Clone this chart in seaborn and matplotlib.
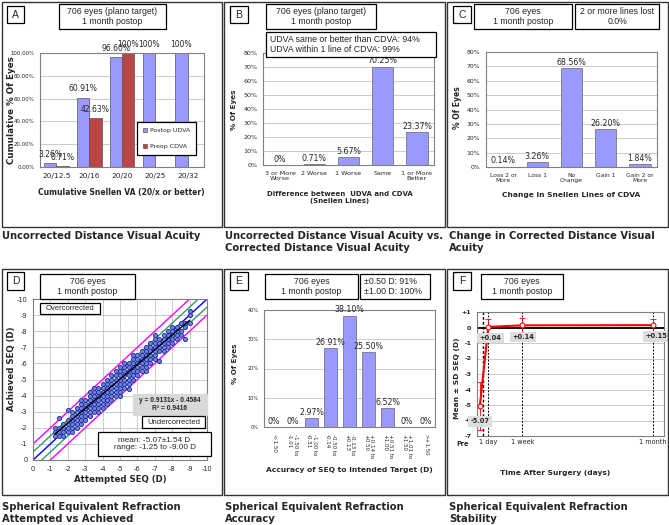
import seaborn as sns
import matplotlib.pyplot as plt
import pandas as pd
from matplotlib.patches import Rectangle
from matplotlib.ticker import FuncFormatter

# --- A: cumulative Snellen VA
snellen_cats = ["20/12.5", "20/16", "20/20", "20/25", "20/32"]
postop_udva = [3.26, 60.91, 96.60, 100, 100]
preop_cdva = [0.71, 42.63, 100, None, None]

# --- B: UDVA vs CDVA difference
diff_cats = ["3 or More\nWorse", "2 Worse", "1 Worse", "Same", "1 or More\nBetter"]
diff_vals = [0, 0.71, 5.67, 70.25, 23.37]

# --- C: change in CDVA
change_cats = ["Loss 2 or\nMore", "Loss 1", "No\nChange", "Gain 1", "Gain 2 or\nMore"]
change_vals = [0.14, 3.26, 68.56, 26.20, 1.84]

# --- D: attempted vs achieved SEQ (attempted, achieved values)
scatter_rows = [
    (-1.25, [-1.50, -1.75, -2.00]),
    (-1.50, [-1.50, -1.75, -2.00, -2.63]),
    (-1.75, [-1.50, -1.75, -2.00, -2.25]),
    (-2.00, [-1.75, -2.00, -2.25, -2.50, -3.13]),
    (-2.25, [-1.75, -2.00, -2.25, -2.50, -2.75, -3.00]),
    (-2.50, [-2.00, -2.25, -2.50, -2.75, -3.00, -3.25]),
    (-2.75, [-2.25, -2.50, -2.75, -3.00, -3.25, -3.50, -3.75]),
    (-3.00, [-2.50, -2.75, -3.00, -3.25, -3.50, -3.75]),
    (-3.25, [-2.75, -3.00, -3.25, -3.50, -3.75, -4.00, -4.25]),
    (-3.50, [-3.00, -3.25, -3.50, -3.75, -4.00, -4.25, -4.50]),
    (-3.75, [-3.00, -3.25, -3.50, -3.75, -4.00, -4.25, -4.50]),
    (-4.00, [-3.25, -3.50, -3.75, -4.00, -4.25, -4.50, -4.75]),
    (-4.25, [-3.50, -3.75, -4.00, -4.25, -4.50, -4.75, -5.00]),
    (-4.50, [-3.75, -4.00, -4.25, -4.50, -4.75, -5.00, -5.25]),
    (-4.75, [-4.00, -4.25, -4.50, -4.75, -5.00, -5.25, -5.50]),
    (-5.00, [-4.00, -4.25, -4.50, -4.75, -5.00, -5.25, -5.50, -5.75]),
    (-5.25, [-4.50, -4.75, -5.00, -5.25, -5.50, -5.75, -6.00]),
    (-5.50, [-4.38, -4.75, -5.00, -5.25, -5.50, -5.75, -6.00]),
    (-5.75, [-5.00, -5.25, -5.50, -5.75, -6.00, -6.25, -6.50]),
    (-6.00, [-5.25, -5.50, -5.75, -6.00, -6.25, -6.50]),
    (-6.25, [-5.50, -5.75, -6.00, -6.25, -6.50, -6.75]),
    (-6.50, [-5.50, -5.75, -6.00, -6.25, -6.50, -6.75, -7.00]),
    (-6.75, [-6.00, -6.25, -6.50, -6.75, -7.00, -7.25]),
    (-7.00, [-6.25, -6.50, -6.75, -7.00, -7.25, -7.50, -7.75]),
    (-7.25, [-6.13, -6.75, -7.00, -7.25, -7.50]),
    (-7.50, [-6.75, -7.00, -7.25, -7.50, -7.75]),
    (-7.75, [-7.00, -7.25, -7.50, -7.75, -8.00]),
    (-8.00, [-7.25, -7.50, -7.75, -8.00, -8.25]),
    (-8.25, [-7.50, -7.75, -8.00, -8.25]),
    (-8.50, [-7.75, -8.00, -8.50]),
    (-8.75, [-7.50, -8.25, -8.50]),
    (-9.00, [-8.50, -9.00, -9.25]),
]
fit_slope, fit_intercept = 0.9131, -0.4584
fit_range = [-1.25, -9.00]
ref_offsets = [(-1.0, "#FF00FF"), (1.0, "#FF00FF"), (-0.5, "#339966"), (0.5, "#339966"), (0.0, "#0000FF")]

# --- E: accuracy of SEQ
acc_cats = ["<-1.50", "-1.50 to\n-1.01", "-1.00 to\n-0.51", "-0.50 to\n-0.14", "-0.13 to\n+0.13",
            "+0.14 to\n+0.50", "+0.51 to\n+1.00", "+1.01 to\n+1.50", ">+1.50"]
acc_vals = [0, 0, 2.97, 26.91, 38.10, 25.50, 6.52, 0, 0]

# --- F: stability over time
time_days = [-0.5, 1, 7, 30]
seq_mean = [-5.07, 0.04, 0.14, 0.15]
seq_sd = [1.54, 0.49, 0.47, 0.39]
time_ticks = [1, 7, 30]
time_labels = ["1 day", "1 week", "1 month"]
visit_lines = [0, 1, 7, 30]

BLUE = "#9999FF"
RED = "#BB4444"

sns.set_style("white")
plt.rcParams["font.family"] = ["DejaVu Sans"]
plt.rcParams["axes.unicode_minus"] = False

W, H = 669, 525
fig = plt.figure(figsize=(W / 100, H / 100), dpi=100)


def px_axes(x0, y0, x1, y1):
    return fig.add_axes([x0 / W, 1 - y1 / H, (x1 - x0) / W, (y1 - y0) / H])


def px_rect(x0, y0, x1, y1, lw=0.9, ec="black", fc=None, z=5):
    fig.add_artist(Rectangle((x0 / W, 1 - y1 / H), (x1 - x0) / W, (y1 - y0) / H,
                             transform=fig.transFigure, fill=fc is not None,
                             facecolor=fc or "none", edgecolor=ec, lw=lw, zorder=z))


def px_text(x, y, s, size, **kw):
    kw.setdefault("ha", "center")
    kw.setdefault("va", "center")
    fig.text(x / W, 1 - y / H, s, fontsize=size, zorder=6, **kw)


def note_box(x0, y0, x1, y1, s, size=6.3, align="center", fc="white", ec="black", **kw):
    px_rect(x0, y0, x1, y1, fc=fc, ec=ec)
    tx = (x0 + x1) / 2 if align == "center" else x0 + 4
    px_text(tx, (y0 + y1) / 2, s, size, ha=align, family="Liberation Sans",
            linespacing=1.15, **kw)


def style_axes(ax, tick_size, grid="y"):
    for sp in ax.spines.values():
        sp.set_color("#808080")
        sp.set_linewidth(0.8)
    ax.tick_params(labelsize=tick_size, length=2, width=0.5, color="#808080", pad=2)
    ax.set_xlabel("")
    ax.set_ylabel("")
    ax.grid(axis=grid, color="#b8b8b8", lw=0.5)
    ax.set_axisbelow(True)


def pct(v):
    return f"{v:g}%" if v == int(v) else f"{v:.2f}%"


def label_bars(ax, cont, values, size, dy=1):
    # seaborn leaves None in the container for missing bars
    for bar, v in zip(cont, values):
        if bar is None or v is None:
            continue
        ax.annotate(pct(v), (bar.get_x() + bar.get_width() / 2, bar.get_height()),
                    xytext=(0, dy), textcoords="offset points", ha="center", va="bottom",
                    fontsize=size, annotation_clip=False)


def bars(ax, cats, vals, width, label_size):
    sns.barplot(x=cats, y=vals, color=BLUE, saturation=1, width=width,
                edgecolor="#666666", linewidth=0.5, ax=ax)
    label_bars(ax, ax.containers[0], vals, label_size)


# panel frames, letters and captions
for (x0, y0, x1, y1) in [(2, 2, 222, 227), (224, 2, 445, 227), (447, 2, 668, 227),
                         (2, 269, 222, 495), (224, 269, 445, 495), (447, 269, 668, 495)]:
    px_rect(x0, y0, x1, y1, lw=1.0, ec="#333333", z=1)
for letter, box in zip("ABCDEF", [(7, 6, 24, 23), (230, 6, 248, 23), (453, 6, 471, 23),
                                  (7, 272, 24, 290), (230, 272, 248, 290), (453, 272, 471, 290)]):
    note_box(*box, letter, size=7.5)

cap = dict(ha="left", weight="bold", linespacing=1.25)
px_text(2, 236, "Uncorrected Distance Visual Acuity", 7.2, **cap)
px_text(225, 242, "Uncorrected Distance Visual Acuity vs.\nCorrected Distance Visual Acuity", 7.2, **cap)
px_text(449, 242, "Change in Corrected Distance Visual\nAcuity", 7.2, **cap)
px_text(2, 513, "Spherical Equivalent Refraction\nAttempted vs Achieved", 7.2, **cap)
px_text(225, 513, "Spherical Equivalent Refraction\nAccuracy", 7.2, **cap)
px_text(449, 513, "Spherical Equivalent Refraction\nStability", 7.2, **cap)

# ---------------- A
axA = px_axes(40, 53, 204, 167)
dfA = pd.DataFrame({
    "cat": snellen_cats * 2,
    "pct": postop_udva + preop_cdva,
    "series": ["Postop UDVA"] * len(snellen_cats) + ["Preop CDVA"] * len(snellen_cats),
})
sns.barplot(data=dfA, x="cat", y="pct", hue="series", palette=[BLUE, RED], saturation=1,
            width=0.75, edgecolor="#555555", linewidth=0.5, ax=axA)
for cont, series in zip(axA.containers, [postop_udva, preop_cdva]):
    label_bars(axA, cont, series, 5.5, dy=3)
style_axes(axA, 3.9)
axA.tick_params(axis="x", labelsize=5.3)
axA.set_ylim(0, 100)
axA.set_yticks(range(0, 101, 20))
axA.yaxis.set_major_formatter(FuncFormatter(lambda v, _: f"{v:.2f}%"))
h, l = axA.get_legend_handles_labels()
leg = axA.legend(h, l, loc="center", bbox_to_anchor=(0.771, 0.25), fontsize=4.5,
                 fancybox=False, edgecolor="black", framealpha=1, labelspacing=1.7,
                 handlelength=0.6, handleheight=0.6, borderpad=1.0, handletextpad=0.5)
leg.get_frame().set_linewidth(0.9)
note_box(59, 4, 166, 29, "706 eyes (plano target)\n1 month postop")
px_text(121, 193, "Cumulative Snellen VA (20/x or better)", 5.5, weight="bold")
px_text(12, 110, "Cumulative % Of Eyes", 6.3, weight="bold", rotation=90)

# ---------------- B
axB = px_axes(263, 53, 434, 165)
bars(axB, diff_cats, diff_vals, 0.62, 5.7)
style_axes(axB, 4.6)
axB.set_ylim(0, 80)
axB.set_yticks(range(0, 81, 10))
axB.yaxis.set_major_formatter(FuncFormatter(lambda v, _: f"{v:.0f}%"))
note_box(266, 4, 376, 29, "706 eyes (plano target)\n1 month postop")
note_box(266, 32, 436, 57, "UDVA same or better than CDVA: 94%\nUDVA within 1 line of CDVA: 99%",
         align="left")
px_text(340, 197.5, "Difference between  UDVA and CDVA\n(Snellen Lines)", 5.0, weight="bold")
px_text(234, 110, "% Of Eyes", 5.2, weight="bold", rotation=90)

# ---------------- C
axC = px_axes(486, 52, 657, 167)
bars(axC, change_cats, change_vals, 0.62, 5.7)
style_axes(axC, 4.4)
axC.tick_params(axis="x", labelsize=4.3)
axC.set_ylim(0, 80)
axC.set_yticks(range(0, 81, 10))
axC.yaxis.set_major_formatter(FuncFormatter(lambda v, _: f"{v:.0f}%"))
note_box(474, 4, 572, 29, "706 eyes\n1 month postop")
note_box(575, 4, 659, 29, "2 or more lines lost\n0.0%")
px_text(571, 195, "Change in Snellen Lines of CDVA", 5.4, weight="bold")
px_text(457, 108, "% Of Eyes", 5.5, weight="bold", rotation=90)

# ---------------- D
axD = px_axes(33, 299, 207, 460)
attempted = [a for a, ys in scatter_rows for _ in ys]
achieved = [y for _, ys in scatter_rows for y in ys]
span = pd.Series([0.0, -10.0])
for off, col in ref_offsets:
    axD.plot(span, span + off, color=col, lw=1.0, zorder=2)
sns.scatterplot(x=attempted, y=achieved, s=9, color="#7080dd", edgecolor="#1a2a9a",
                linewidth=0.6, ax=axD, zorder=3)
fit_x = pd.Series(fit_range)
axD.plot(fit_x, fit_slope * fit_x + fit_intercept, color="black", lw=1.0, zorder=4)
style_axes(axD, 4.8, grid="both")
axD.set_xlim(0, -10)
axD.set_ylim(0, -10)
axD.set_xticks(range(0, -11, -1))
axD.set_yticks(range(0, -11, -1))
note_box(40, 274, 135, 299, "706 eyes\n1 month postop")
note_box(40, 303, 100, 314, "Overcorrected", size=5.5)
note_box(133, 394, 207, 415, f"y = {fit_slope}x - {abs(fit_intercept)}\nR² = 0.9416", size=4.8,
         fc="#d9d9d9", ec="#d9d9d9", weight="bold")
note_box(142, 416, 205, 428, "Undercorrected", size=5.5)
note_box(98, 432, 211, 456, "mean: -5.07±1.54 D\nrange: -1.25 to -9.00 D", size=5.9)
px_text(120, 480, "Attempted SEQ (D)", 6.2, weight="bold")
px_text(12, 369, "Achieved SEQ (D)", 6.2, weight="bold", rotation=90)

# ---------------- E
axE = px_axes(264, 310, 435, 427)
bars(axE, acc_cats, acc_vals, 0.65, 5.7)
style_axes(axE, 3.6)
axE.set_ylim(0, 40)
axE.set_yticks(range(0, 41, 10))
axE.yaxis.set_major_formatter(FuncFormatter(lambda v, _: f"{v:.0f}%"))
axE.tick_params(axis="x", labelsize=4.0, pad=3)
for t in axE.get_xticklabels():
    t.set_rotation(-90)
    t.set_va("top")
    t.set_multialignment("left")
note_box(265, 274, 358, 299, "706 eyes\n1 month postop")
note_box(360, 274, 430, 299, "±0.50 D: 91%\n±1.00 D: 100%", align="left")
px_text(349, 470, "Accuracy of SEQ to Intended Target (D)", 5.4, weight="bold")
px_text(235, 364, "% Of Eyes", 5.2, weight="bold", rotation=90)

# ---------------- F
axF = px_axes(477, 312, 664, 436)
for d in visit_lines:
    axF.axvline(d, color="black", ls=(0, (2, 1.5)), lw=1.0 if d == 0 else 0.7, zorder=1)
axF.axhline(0, color="black", lw=1.3, zorder=2)
axF.errorbar(time_days, seq_mean, yerr=seq_sd, fmt="none", ecolor="red", elinewidth=0.6,
             capsize=2, capthick=0.6, zorder=3)
sns.lineplot(x=time_days, y=seq_mean, color="red", lw=1.5, marker="o", markersize=3.5,
             markerfacecolor="white", markeredgecolor="red", markeredgewidth=0.8,
             ax=axF, zorder=4)
style_axes(axF, 4.5)
axF.set_xlim(-1, 32)
axF.set_ylim(-7, 1)
axF.set_yticks(range(-7, 2))
axF.yaxis.set_major_formatter(FuncFormatter(lambda v, _: f"+{v:.0f}" if v > 0 else f"{v:.0f}"))
for t in axF.get_yticklabels():
    t.set_fontweight("bold")
axF.set_xticks(time_ticks)
axF.set_xticklabels(time_labels)
axF.tick_params(axis="x", length=0, labelsize=4.7)
for (lx, ly), m in zip([(-0.45, -6.05), (1.35, -0.68), (7.15, -0.62), (30.7, -0.56)], seq_mean):
    axF.text(lx, ly, f"{m:+.2f}", fontsize=4.8, weight="bold", ha="center", va="center",
             bbox=dict(boxstyle="square,pad=0.35", fc="#dddddd", ec="none"), zorder=5)
px_text(463, 444, "Pre", 4.7, weight="bold")
note_box(481, 274, 563, 299, "706 eyes\n1 month postop")
px_text(555, 473, "Time After Surgery (days)", 5.4, weight="bold")
px_text(457, 378, "Mean ± SD SEQ (D)", 5.4, weight="bold", rotation=90)

fig.savefig("out.png", dpi=100)
plt.close(fig)
